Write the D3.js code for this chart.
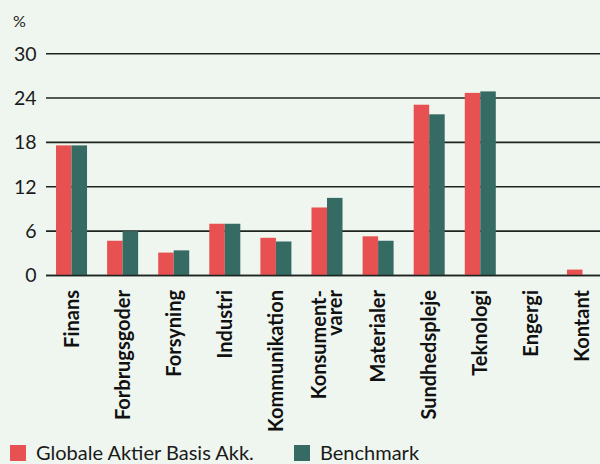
<!DOCTYPE html>
<html>
<head>
<meta charset="utf-8">
<script src="https://cdn.jsdelivr.net/npm/d3@7"></script>
<style>
  html, body { margin: 0; padding: 0; background: #eff6f0; }
  svg { display: block; font-family: Lato, "Open Sans", sans-serif; }
</style>
</head>
<body>
<svg id="chart" width="600" height="464"></svg>
<script>
const categories = ["Finans", "Forbrugsgoder", "Forsyning", "Industri", "Kommunikation", "Konsument-\nvarer", "Materialer", "Sundhedspleje", "Teknologi", "Engergi", "Kontant"];
const fundValues = [17.6, 4.7, 3.1, 7.0, 5.1, 9.2, 5.3, 23.1, 24.7, 0, 0.8];
const benchmarkValues = [17.6, 6.0, 3.4, 7.0, 4.6, 10.5, 4.7, 21.8, 24.9, 0, 0];
const seriesNames = ["Globale Aktier Basis Akk.", "Benchmark"];
const seriesColors = ["#e85152", "#356b62"];
const yTicks = [0, 6, 12, 18, 24, 30];
const unitLabel = "%";

(function () {
const svg = d3.select("#chart");
const plotLeft = 46, plotRight = 608, plotTop = 53.7, plotBottom = 275.5;

const x = d3.scaleBand().domain(categories).range([plotLeft, plotRight]).paddingInner(0.393).paddingOuter(0.196);
const xs = d3.scaleBand().domain([0, 1]).range([0, x.bandwidth()]);
const y = d3.scaleLinear().domain([0, 30]).range([plotBottom, plotTop]);

// gridlines
svg.append("g").selectAll("line").data(yTicks).join("line")
  .attr("x1", plotLeft).attr("x2", 600)
  .attr("y1", d => y(d)).attr("y2", d => y(d))
  .attr("stroke", "#1e2420").attr("stroke-width", 1.6);

// y tick labels
svg.append("g").selectAll("text").data(yTicks).join("text")
  .attr("x", 36.5).attr("y", d => y(d)).attr("dy", "0.35em")
  .attr("text-anchor", "end").attr("font-size", 19.5).attr("fill", "#1a1a1a")
  .text(d => d);

svg.append("text").attr("x", 13).attr("y", 27).attr("font-size", 16).attr("fill", "#1a1a1a").text(unitLabel);

// bars
const rows = categories.map((c, i) => ({c, vals: [fundValues[i], benchmarkValues[i]]}));
const grp = svg.append("g").selectAll("g").data(rows).join("g")
  .attr("transform", d => `translate(${x(d.c)},0)`);
grp.selectAll("rect").data(d => d.vals.map((v, k) => ({v, k}))).join("rect")
  .attr("x", d => xs(d.k)).attr("width", xs.bandwidth())
  .attr("y", d => y(d.v)).attr("height", d => y(0) - y(d.v))
  .attr("fill", d => seriesColors[d.k]);

// baseline on top
svg.append("line").attr("x1", plotLeft).attr("x2", 600).attr("y1", y(0)).attr("y2", y(0))
  .attr("stroke", "#1e2420").attr("stroke-width", 1.6);

// x labels rotated
const xl = svg.append("g").selectAll("g").data(categories).join("g")
  .attr("transform", d => `translate(${x(d) + x.bandwidth() / 2},290) rotate(-90)`);
xl.each(function(d) {
  const lines = d.split("\n");
  const g = d3.select(this);
  const lh = 15.5;
  lines.forEach((ln, i) => {
    g.append("text")
      .attr("x", 0)
      .attr("y", (i - (lines.length - 1) / 2) * lh)
      .attr("dy", "0.35em")
      .attr("text-anchor", "end")
      .attr("font-size", 20).attr("font-weight", "bold").attr("fill", "#111")
      .text(ln);
  });
});

// legend
const legendX = [10, 294];
const lg = svg.append("g").selectAll("g").data(seriesNames).join("g")
  .attr("transform", (d, i) => `translate(${legendX[i]},445)`);
lg.append("rect").attr("width", 16).attr("height", 16).attr("fill", (d, i) => seriesColors[i]);
lg.append("text").attr("x", 26).attr("y", 14.5).attr("font-size", 20).attr("fill", "#1a1a1a").text(d => d);
})();
</script>
</body>
</html>
